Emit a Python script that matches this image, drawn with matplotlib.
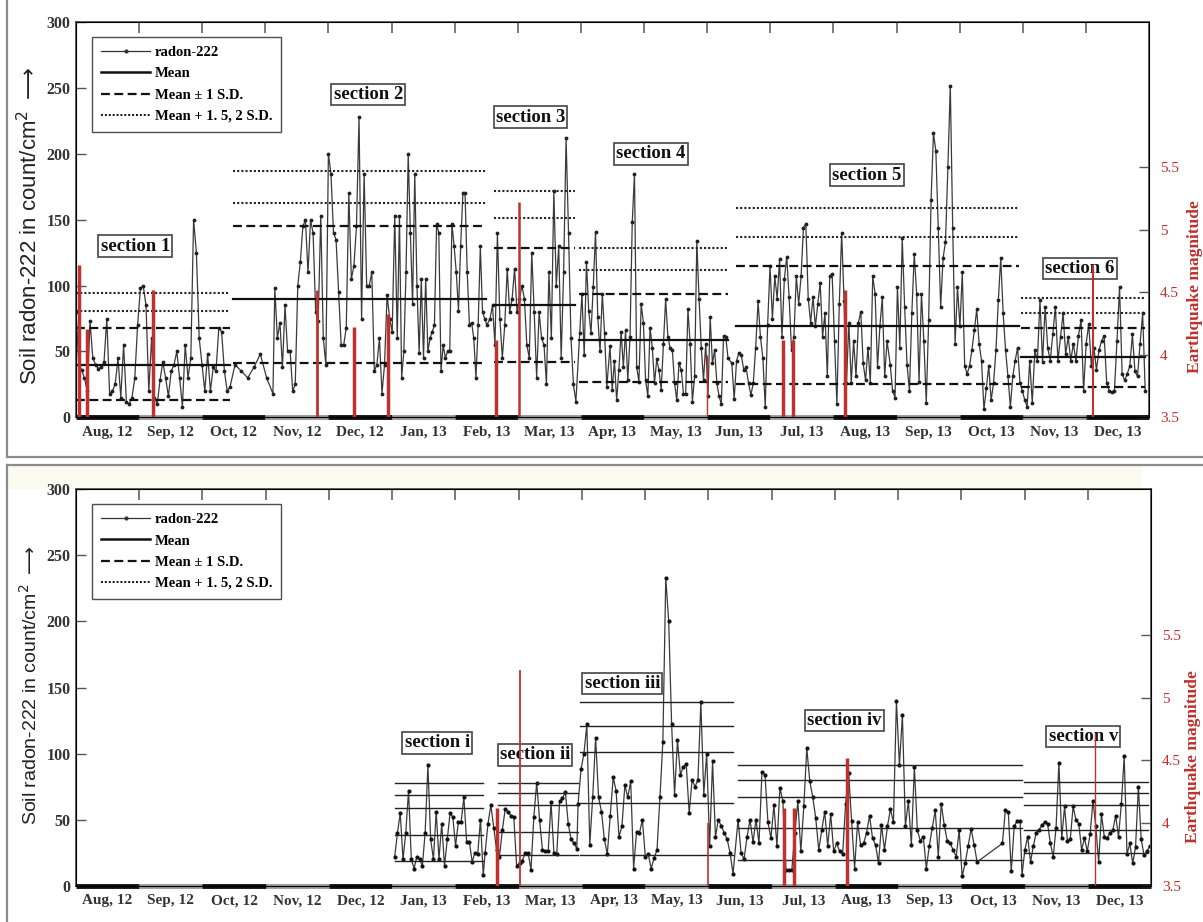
import numpy as np
import matplotlib.pyplot as plt
from matplotlib.lines import Line2D
from matplotlib.patches import Rectangle

plt.rcParams['font.family'] = ['Liberation Serif', 'DejaVu Serif']

# x axis is in month units: 0 = 1 Aug 2012, 17 = 31 Dec 2013
months = ['Aug, 12', 'Sep, 12', 'Oct, 12', 'Nov, 12', 'Dec, 12', 'Jan, 13',
          'Feb, 13', 'Mar, 13', 'Apr, 13', 'May, 13', 'Jun, 13', 'Jul, 13',
          'Aug, 13', 'Sep, 13', 'Oct, 13', 'Nov, 13', 'Dec, 13']

# ---- upper panel: radon-222 series, read piece by piece (start, end in months)
top_spans = [(0.00, 2.44), (2.52, 3.12), (3.15, 5.05), (5.09, 6.51), (6.56, 7.92),
             (7.98, 8.41), (8.46, 10.33), (10.39, 12.85), (12.90, 15.07), (15.11, 16.94)]
top_radon = [
    [80, 40, 36, 30, 20, 73, 45, 40, 37, 38, 42, 75, 18, 20, 25, 45, 15, 55, 12, 10,
     15, 30, 70, 98, 100, 85, 20, 60, 15, 10, 28, 42, 30, 16, 35, 40, 50, 30, 8, 55,
     30, 45, 150, 125, 60, 40, 20, 48, 20, 38, 35, 68, 65, 35, 20, 23],
    [40, 35, 30, 38, 48, 30, 18],
    [98, 60, 72, 38, 85, 50, 50, 20, 25, 100, 118, 145, 150, 110, 150, 140, 80, 73,
     153, 60, 40, 200, 185, 140, 135, 95, 55, 55, 68, 170, 105, 115, 145, 228, 75, 185,
     100, 100, 110, 35, 40, 60, 18, 40, 93, 75, 65, 153],
    [60, 153, 30, 50, 110, 200, 140, 86, 185, 100, 49, 105, 45, 105, 50, 60, 65, 70,
     147, 140, 35, 55, 45, 50, 50, 147, 130, 110, 81, 130, 170, 170, 110, 70, 72, 60,
     30, 70, 130, 80, 75, 70],
    [75, 85, 55, 140, 75, 45, 70, 113, 80, 90, 113, 80, 90, 100, 90, 55, 45, 125, 80,
     30, 80, 60, 55, 25, 110, 60, 172, 100, 130, 45, 110, 212, 140, 60, 25, 12],
    [64, 94, 47, 118, 81, 64, 99, 141, 76, 50, 94, 64, 23],
    [54, 21, 43, 13, 36, 65, 38, 66, 28, 61, 148, 185, 38, 27, 86, 72, 28, 16, 68, 53,
     26, 44, 36, 21, 56, 90, 61, 53, 51, 26, 13, 41, 36, 18, 18, 82, 56, 12, 31, 134,
     90, 53, 28, 56, 16, 76, 41, 51, 26, 16, 10, 62, 61, 45],
    [41, 14, 43, 49, 47, 36, 38, 26, 17, 26, 53, 88, 61, 45, 8, 70, 115, 75, 107, 90,
     120, 61, 105, 122, 91, 51, 61, 107, 86, 107, 144, 147, 90, 72, 91, 69, 86, 102, 61,
     79, 31, 107, 109, 58, 10, 86, 140, 88, 26, 72, 26, 58, 31, 72, 80, 41, 28, 53, 26,
     107, 94, 38, 69, 91, 31, 58],
    [40, 20, 15, 99, 53, 136, 84, 40, 20, 79, 124, 94, 27, 94, 58, 11, 74, 165, 216, 202,
     144, 84, 121, 133, 190, 252, 144, 56, 99, 69, 110, 39, 33, 39, 51, 66, 82, 56, 43, 6,
     22, 39, 13, 26, 51, 89, 121, 79, 51, 31, 8, 31, 43, 53, 26, 20, 13, 8],
    [43, 11, 51, 43, 89, 42, 84, 53, 43, 63, 84, 43, 61, 79, 48, 61, 43, 56, 43, 62,
     74, 20, 56, 71, 39, 53, 36, 51, 58, 62, 26, 20, 19, 20, 58, 99, 33, 28, 33, 39,
     63, 35, 31, 56, 79, 20],
]

# upper panel section statistics
top_sec_start = [0.00, 2.49, 6.62, 7.97, 10.46, 14.97]
top_sec_end = [2.44, 6.50, 7.91, 10.33, 14.94, 16.94]
top_mean = [40, 90, 85.3, 58.7, 69.6, 45.6]
top_sd_low = [13, 41.5, 41.8, 26.6, 25.1, 23.3]
top_sd_high = [67.5, 145.5, 128.8, 93.4, 114.9, 67.6]
top_sd15 = [80.5, 163, 151, 111.8, 136.7, 79.4]
top_sd2 = [94.5, 187, 172, 128.8, 158.7, 90.3]
top_sec_names = ['section 1', 'section 2', 'section 3', 'section 4', 'section 5', 'section 6']
top_name_x = [0.94, 4.63, 7.20, 9.11, 12.53, 15.90]
top_name_y = [130, 245, 228, 200, 184, 113]

# ---- lower panel
bot_spans = [(5.04, 6.44), (6.47, 7.92), (7.94, 10.39), (10.47, 14.25),
             (14.65, 14.93), (14.96, 16.98)]
bot_radon = [
    [22, 40, 55, 20, 40, 72, 20, 13, 22, 20, 15, 40, 91, 35, 20, 56, 20, 47, 15, 35,
     55, 52, 30, 48, 48, 67, 33, 33, 18, 25, 24, 50, 8],
    [25, 47, 61, 44, 27, 22, 42, 58, 56, 53, 52, 15, 17, 19, 25, 25, 12, 52, 78, 50,
     27, 26, 26, 63, 25, 24, 64, 66, 71, 47, 35, 32, 28],
    [62, 88, 100, 122, 31, 67, 112, 67, 56, 35, 24, 53, 82, 72, 37, 45, 76, 67, 79, 13,
     41, 40, 50, 22, 24, 13, 21, 27, 67, 109, 233, 200, 122, 69, 110, 84, 90, 92, 55, 80,
     75, 80, 139, 69, 100, 30, 94, 37, 50, 45, 40, 35, 25, 9],
    [50, 25, 20, 37, 50, 33, 50, 32, 86, 84, 48, 36, 61, 30, 74, 64, 12, 12, 12, 40,
     64, 26, 60, 104, 79, 67, 51, 27, 42, 56, 30, 54, 26, 32, 26, 24, 62, 85, 49, 13,
     48, 31, 32, 40, 53, 36, 31, 17, 46, 27, 45, 58, 48, 140, 91, 129, 45, 64, 31, 90,
     42, 34, 37, 13, 30, 44, 57, 22, 62, 46, 34, 32, 27, 22, 42, 7, 17, 30, 43, 31, 18],
    [32, 57, 56, 11, 45, 49, 49],
    [8, 27, 37, 18, 30, 40, 42, 46, 48, 47, 32, 22, 44, 93, 36, 60, 34, 35, 60, 50,
     47, 27, 36, 26, 39, 64, 45, 18, 54, 37, 36, 40, 42, 53, 37, 62, 98, 24, 32, 17,
     29, 75, 35, 23, 26, 30],
]
bot_sec_start = [5.04, 6.67, 7.97, 10.47, 14.99]
bot_sec_end = [6.44, 7.94, 10.39, 14.96, 16.95]
bot_levels = [[19, 38.4, 58.5, 68.6, 77.5],
              [23, 41, 61, 70, 78],
              [23.5, 62.4, 101, 121, 139],
              [19.5, 43.4, 67.4, 80, 91.3],
              [25, 42.5, 61, 70, 78.6]]
bot_sec_names = ['section i', 'section ii', 'section iii', 'section iv', 'section v']
bot_name_x = [5.71, 7.26, 8.64, 12.15, 15.93]
bot_name_y = [108, 99, 153, 125, 113]

# earthquakes (month position, magnitude)
eq_month = [0.05, 0.18, 1.22, 3.82, 4.40, 4.95, 6.66, 7.02, 9.99, 11.20, 11.36, 12.19, 16.11]
eq_mag = [4.72, 4.21, 4.52, 4.52, 4.22, 4.33, 4.12, 5.22, 4.0, 4.12, 4.12, 4.52, 4.72]
top_eq_lw = [2.5, 2.5, 2.5, 2.0, 2.5, 2.5, 2.5, 1.8, 1.0, 2.5, 2.5, 2.5, 1.5]
bot_eq_first = 6
bot_eq_lw = [2.5, 1.3, 1.2, 2.5, 2.5, 2.5, 1.0]

RED = '#c0302c'
INK = '#333333'

fig = plt.figure(figsize=(12.03, 9.22), dpi=100)
W, H = 1203.0, 922.0


def series_xy(spans, values):
    xs, ys = [], []
    for (a, b), v in zip(spans, values):
        xs.append(np.linspace(a, b, len(v)))
        ys.append(np.array(v, dtype=float))
    return np.concatenate(xs), np.concatenate(ys)


def base_axes(rect):
    ax = fig.add_axes(rect)
    ax.set_xlim(0, 17)
    ax.set_ylim(0, 300)
    for s in ax.spines.values():
        s.set_color('#555555')
        s.set_linewidth(1.3)
    ax.set_xticks(np.arange(1, 17))
    ax.set_xticklabels([])
    ax.set_xticks(np.arange(17) + 0.5, minor=True)
    ax.set_xticklabels(months, minor=True, fontsize=11, fontweight='bold', color=INK)
    ax.tick_params(axis='x', which='major', direction='in', top=True, bottom=False,
                   length=8, width=1.1, color='#555555')
    ax.tick_params(axis='x', which='minor', length=0, pad=6)
    ax.set_yticks(np.arange(0, 301, 50))
    ax.set_yticklabels([str(v) for v in range(0, 301, 50)], fontsize=11.5,
                       fontweight='bold', color=INK)
    ax.tick_params(axis='y', direction='in', length=7, width=1.0, pad=4, color='#555555')
    # month bars along the time axis
    for i in range(17):
        ax.plot([i, i + 1], [0, 0], color='#111111' if i % 2 == 0 else '#9a9a9a',
                lw=3.5, solid_capstyle='butt', clip_on=False, zorder=6)
    handles = [Line2D([], [], color=INK, lw=0.9, marker='.', ms=4),
               Line2D([], [], color='#111111', lw=1.8),
               Line2D([], [], color='#111111', lw=1.6, ls=(0, (4, 2))),
               Line2D([], [], color='#111111', lw=1.4, ls=(0, (1, 1)))]
    leg = ax.legend(handles, ['radon-222', 'Mean', 'Mean \u00b1 1 S.D.', 'Mean + 1. 5, 2 S.D.'],
                    loc='upper left', bbox_to_anchor=(0.015, 0.962), borderaxespad=0,
                    fancybox=False, handlelength=3.4, handletextpad=0.3,
                    labelspacing=0.55, borderpad=0.6,
                    prop={'weight': 'bold', 'size': 10.5})
    leg.get_frame().set_edgecolor('#222222')
    leg.get_frame().set_linewidth(1.0)
    return ax


def quake_axes(ax, first, widths):
    ax2 = ax.twinx()
    ax2.set_ylim(3.5, 6.66)
    ax2.set_yticks([3.5, 4, 4.5, 5, 5.5])
    ax2.set_yticklabels(['3.5', '4', '4.5', '5', '5.5'], fontsize=11, color=RED)
    ax2.tick_params(axis='y', direction='in', length=7, width=1.0, pad=8, color='#555555')
    ax2.vlines(eq_month[first:], 3.5, eq_mag[first:], colors=RED, linewidths=widths, zorder=4)
    return ax2


def section_box(ax, x, y, name):
    ax.text(x, y, name, ha='center', va='center', fontsize=13.5, fontweight='bold',
            color='#111111', zorder=3,
            bbox=dict(boxstyle='square,pad=0.12', fc='white', ec='#444444', lw=1.2))


# ---------------- upper panel
ax1 = base_axes([76 / W, 1 - 417.3 / H, 1073 / W, 395 / H])
x, y = series_xy(top_spans, top_radon)
ax1.plot(x, y, color='#3a3a3a', lw=0.9, marker='.', ms=3.5, mfc='#222222', mec='#222222', zorder=2)
for i in range(len(top_sec_start)):
    xs = [top_sec_start[i], top_sec_end[i]]
    ax1.plot(xs, [top_mean[i]] * 2, color='#111111', lw=1.6, zorder=3)
    ax1.plot(xs, [top_sd_low[i]] * 2, color='#111111', lw=1.6, ls=(0, (4, 2)), zorder=3)
    ax1.plot(xs, [top_sd_high[i]] * 2, color='#111111', lw=1.6, ls=(0, (4, 2)), zorder=3)
    ax1.plot(xs, [top_sd15[i]] * 2, color='#222222', lw=1.5, ls=(0, (1, 1)), zorder=3)
    ax1.plot(xs, [top_sd2[i]] * 2, color='#222222', lw=1.5, ls=(0, (1, 1)), zorder=3)
    section_box(ax1, top_name_x[i], top_name_y[i], top_sec_names[i])
quake_axes(ax1, 0, top_eq_lw)

# ---------------- lower panel
fig.add_artist(Rectangle((7 / W, 1 - 489 / H), 1135 / W, 24 / H, transform=fig.transFigure,
                         fc='#fbfaf0', ec='none', zorder=0))
ax3 = base_axes([76 / W, 1 - 885.7 / H, 1075 / W, 396.4 / H])
x, y = series_xy(bot_spans, bot_radon)
ax3.plot(x, y, color='#3a3a3a', lw=0.9, marker='.', ms=4, mfc='#111111', mec='#111111', zorder=2)
for i in range(len(bot_sec_start)):
    for lv in bot_levels[i]:
        ax3.plot([bot_sec_start[i], bot_sec_end[i]], [lv, lv], color='#222222', lw=1.0, zorder=3)
    section_box(ax3, bot_name_x[i], bot_name_y[i], bot_sec_names[i])
quake_axes(ax3, bot_eq_first, bot_eq_lw)

# axis titles
ylab = 'Soil radon-222 in count/cm$^2$ $\\longrightarrow$'
fig.text(30 / W, 1 - 226 / H, ylab, rotation=90, ha='center', va='center',
         fontsize=16, family=['Liberation Sans', 'DejaVu Sans'], color='#222222')
fig.text(30 / W, 1 - 685 / H, ylab, rotation=90, ha='center', va='center',
         fontsize=14, family=['Liberation Sans', 'DejaVu Sans'], color='#222222')
fig.text(1195 / W, 1 - 287 / H, 'Earthquake magnitude', rotation=90, ha='center',
         va='center', fontsize=12.5, fontweight='bold', color=RED)
fig.text(1193 / W, 1 - 757 / H, 'Earthquake magnitude', rotation=90, ha='center',
         va='center', fontsize=12.5, fontweight='bold', color=RED)

# panel frames
frame = dict(transform=fig.transFigure, color='#8c8c8c', lw=1.6)
fig.add_artist(Line2D([7 / W, 7 / W], [1 - 457 / H, 1.0], **frame))
fig.add_artist(Line2D([7 / W, 1.0], [1 - 457 / H, 1 - 457 / H], **frame))
fig.add_artist(Line2D([7 / W, 7 / W], [0.0, 1 - 465 / H], **frame))
fig.add_artist(Line2D([7 / W, 1.0], [1 - 465 / H, 1 - 465 / H], **frame))

fig.savefig('out.png', dpi=100)
